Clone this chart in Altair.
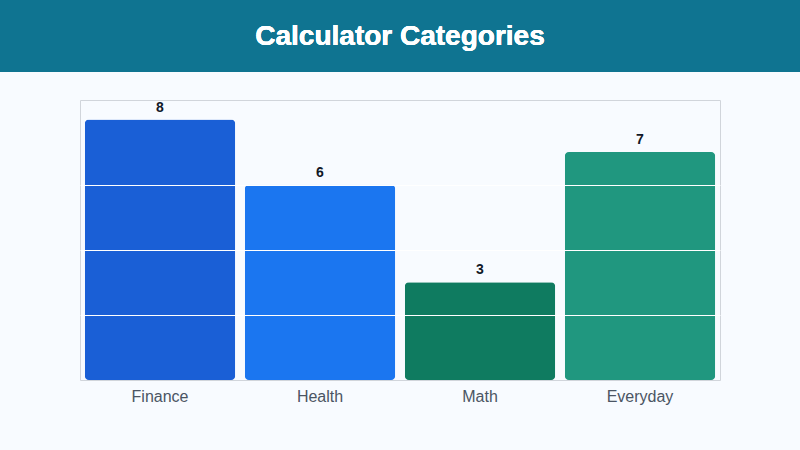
import altair as alt
import pandas as pd

# Calculator counts per category
categories = ["Finance", "Health", "Math", "Everyday"]
counts = [8, 6, 3, 7]
bar_colors = ["#1a5fd6", "#1b76f0", "#0f7b60", "#20977f"]

df = pd.DataFrame({"category": categories, "count": counts})

FONT = "Liberation Sans"
BG = "#f8fbff"
W, H = 640, 280
PAD = {"left": 80, "top": 100, "right": 80, "bottom": 70}

x_enc = alt.X(
    "category:N",
    sort=categories,
    scale=alt.Scale(paddingInner=0.06, paddingOuter=0.03),
    axis=alt.Axis(
        title=None, labelAngle=0, ticks=False, domain=False,
        labelFont=FONT, labelFontSize=16, labelColor="#4b5563", labelPadding=8,
    ),
)
y_enc = alt.Y(
    "count:Q",
    scale=alt.Scale(domain=[0, 8.6], nice=False),
    axis=alt.Axis(
        title=None, labels=False, ticks=False, domain=False,
        values=[2, 4, 6], grid=True, gridColor="#ffffff", gridWidth=1, zindex=1,
    ),
)

bars = alt.Chart(df).mark_bar(cornerRadius=4).encode(
    x=x_enc,
    y=y_enc,
    color=alt.Color("category:N", scale=alt.Scale(domain=categories, range=bar_colors), legend=None),
)

labels = alt.Chart(df).mark_text(
    dy=-5, baseline="bottom", font=FONT, fontSize=14, fontWeight="bold", color="#111827"
).encode(
    x=alt.X("category:N", sort=categories),
    y="count:Q",
    text="count:Q",
)

# header banner across the top of the page
banner = alt.Chart(df).mark_rect(color="#0f7491").encode(
    x=alt.value(-PAD["left"]), x2=alt.value(W + PAD["right"]),
    y=alt.value(-PAD["top"]), y2=alt.value(-28),
)
title = alt.Chart(df).mark_text(
    text="Calculator Categories", font=FONT, fontSize=28, fontWeight="bold",
    color="#ffffff", align="center", baseline="middle",
).encode(x=alt.value(W / 2), y=alt.value(-PAD["top"] + 37))

chart = alt.layer(banner, title, bars, labels).properties(
    width=W, height=H,
    autosize=alt.AutoSizeParams(type="none"),
    padding=PAD,
    background=BG,
).configure_view(stroke="#d1d5db", strokeWidth=1, fill=BG)

chart.save("out.html", embed_options={"renderer": "svg", "actions": False})
